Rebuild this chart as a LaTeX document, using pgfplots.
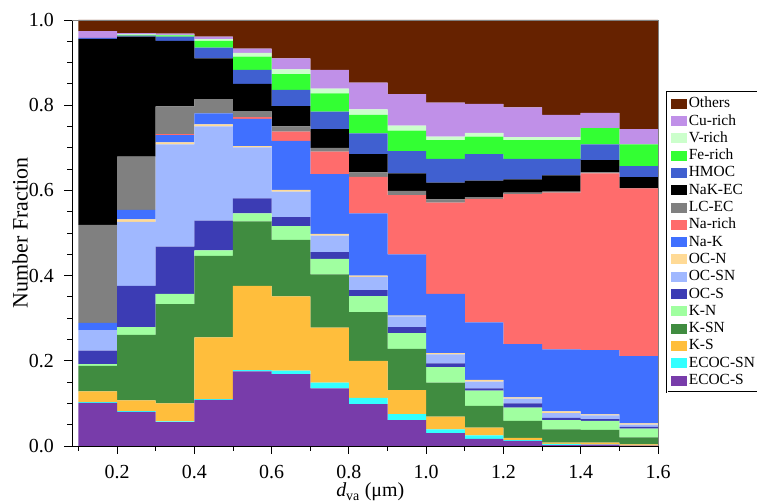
\documentclass[border=0pt]{standalone}
\usepackage{fontspec}
\setmainfont{Liberation Serif}
\usepackage{pgfplots}
\usepackage{pgfplotstable}
\pgfplotsset{compat=1.18}
\definecolor{OT}{RGB}{102,34,0}
\definecolor{CU}{RGB}{192,144,232}
\definecolor{VR}{RGB}{204,255,204}
\definecolor{FE}{RGB}{51,255,51}
\definecolor{HM}{RGB}{64,96,208}
\definecolor{NE}{RGB}{0,0,0}
\definecolor{LC}{RGB}{128,128,128}
\definecolor{NR}{RGB}{255,108,108}
\definecolor{NK}{RGB}{64,112,255}
\definecolor{ON}{RGB}{255,218,150}
\definecolor{OSN}{RGB}{160,184,255}
\definecolor{OS}{RGB}{60,60,180}
\definecolor{KN}{RGB}{160,255,160}
\definecolor{KSN}{RGB}{64,140,64}
\definecolor{KS}{RGB}{255,190,60}
\definecolor{EN}{RGB}{51,255,255}
\definecolor{ES}{RGB}{120,60,170}
\pgfplotstableread{
x    ES   EN   KS   KSN  KN   OS   OSN  ON   NK   NR   LC   NE   HM   FE   VR   CU   OT
0.15 .101 .002 .025 .060 .004 .032 .048 0    .017 0    .230 .436 .003 0    0    .016 .026
0.25 .080 .002 .025 .154 .018 .097 .150 .006 .022 0    .125 .282 .002 .002 .001 .003 .031
0.35 .056 .002 .042 .233 .024 .111 .240 .005 .017 .002 .065 .154 .010 .003 .001 .003 .032
0.45 .108 .002 .145 .191 .013 .070 .221 .005 .026 0    .033 .096 .025 .016 .004 .006 .039
0.55 .175 .003 .198 .151 .019 .035 .120 .003 .064 .004 .014 .064 .033 .031 .009 .010 .067
0.65 .169 .008 .174 .133 .032 .021 .060 .004 .115 .022 .012 .048 .038 .037 .011 .026 .090
0.75 .135 .014 .129 .125 .036 .016 .039 .004 .140 .053 .009 .044 .041 .043 .011 .044 .117
0.85 .098 .015 .087 .114 .038 .014 .031 .003 .146 .086 .010 .043 .049 .043 .013 .063 .147
0.95 .061 .014 .056 .097 .037 .014 .025 .002 .144 .139 .010 .041 .052 .048 .012 .074 .174
1.05 .030 .009 .030 .080 .036 .009 .021 .003 .139 .214 .008 .039 .056 .044 .008 .080 .194
1.15 .017 .008 .018 .051 .036 .005 .016 .004 .135 .290 .004 .039 .062 .041 .009 .068 .197
1.25 .012 .002 .005 .040 .031 .010 .011 .003 .125 .352 .004 .031 .048 .044 .007 .070 .205
1.35 .002 .003 .003 .031 .022 .005 .011 .004 .146 .368 .002 .038 .039 .044 .007 .052 .223
1.45 .003 .001 .004 .030 .021 .004 .009 .002 .151 .415 .002 .029 .037 .038 0    .036 .218
1.55 .001 0    .003 .016 .021 .004 .005 .003 .158 .394 0    .026 .026 .051 0    .036 .256
}\data
\begin{document}
\begin{tikzpicture}[x=1bp,y=1bp]
\path[use as bounding box] (0,0) rectangle (757,504);
\begin{axis}[
  at={(72bp,58bp)}, anchor=south west,
  width=586bp, height=426bp, scale only axis,
  xmin=0.0834, xmax=1.6, ymin=0, ymax=1,
  ybar stacked, bar width=0.1,
  axis on top,
  axis x line*=bottom, axis y line*=left,
  axis line style={line width=0.9bp, -},
  tick style={line width=0.8bp, black},
  tick align=outside,
  major tick length=8bp, minor tick length=5bp,
  xtick={0.2,0.4,0.6,0.8,1.0,1.2,1.4,1.6},
  minor xtick={0.1,0.3,0.5,0.7,0.9,1.1,1.3,1.5},
  ytick={0,0.2,0.4,0.6,0.8,1.0},
  minor ytick={0.05,0.1,0.15,0.25,0.3,0.35,0.45,0.5,0.55,0.65,0.7,0.75,0.85,0.9,0.95},
  /pgf/number format/.cd, fixed, fixed zerofill, precision=1, assume math mode=true,
  /pgfplots/.cd,
  ticklabel style={font=\fontsize{20}{22}\selectfont},
  yticklabel style={anchor=east, inner sep=0pt, xshift=-10bp},
  xticklabel style={anchor=north, inner sep=0pt, yshift=-11bp},
  xlabel={{\itshape d}\textsubscript{va} (μm)},
  xlabel style={at={(axis description cs:0.509,-0.1197)}, anchor=base, inner sep=1pt, font=\fontsize{20}{22}\selectfont},
  ylabel={Number Fraction},
  ylabel style={at={(axis description cs:-0.0887,0.5)}, anchor=center, font=\fontsize{22}{24}\selectfont},
  reverse legend,
  legend style={at={(rel axis cs:1.0154,0.831)}, anchor=north west,
    draw=black, line width=0.6bp, double=white, double distance=1bp,
    font=\fontsize{15.5}{17}\selectfont,
    inner xsep=4bp, inner ysep=3bp, row sep=0.3bp,
    nodes={text height=11bp, text depth=3bp, inner sep=1.5bp},
    cells={anchor=west}},
  legend image code/.code={\fill[#1] (0bp,-5bp) rectangle (16bp,5bp);},
  after end axis/.code={\draw[gray, line width=0.5bp] (rel axis cs:0,1) -- (rel axis cs:1,1) -- (rel axis cs:1,0);},
]
\addplot[fill=ES, draw=none] table[x=x, y=ES] {\data}; \addlegendentry{ECOC-S}
\addplot[fill=EN, draw=none] table[x=x, y=EN] {\data}; \addlegendentry{ECOC-SN}
\addplot[fill=KS, draw=none] table[x=x, y=KS] {\data}; \addlegendentry{K-S}
\addplot[fill=KSN, draw=none] table[x=x, y=KSN] {\data}; \addlegendentry{K-SN}
\addplot[fill=KN, draw=none] table[x=x, y=KN] {\data}; \addlegendentry{K-N}
\addplot[fill=OS, draw=none] table[x=x, y=OS] {\data}; \addlegendentry{OC-S}
\addplot[fill=OSN, draw=none] table[x=x, y=OSN] {\data}; \addlegendentry{OC-SN}
\addplot[fill=ON, draw=none] table[x=x, y=ON] {\data}; \addlegendentry{OC-N}
\addplot[fill=NK, draw=none] table[x=x, y=NK] {\data}; \addlegendentry{Na-K}
\addplot[fill=NR, draw=none] table[x=x, y=NR] {\data}; \addlegendentry{Na-rich}
\addplot[fill=LC, draw=none] table[x=x, y=LC] {\data}; \addlegendentry{LC-EC}
\addplot[fill=NE, draw=none] table[x=x, y=NE] {\data}; \addlegendentry{NaK-EC}
\addplot[fill=HM, draw=none] table[x=x, y=HM] {\data}; \addlegendentry{HMOC}
\addplot[fill=FE, draw=none] table[x=x, y=FE] {\data}; \addlegendentry{Fe-rich}
\addplot[fill=VR, draw=none] table[x=x, y=VR] {\data}; \addlegendentry{V-rich}
\addplot[fill=CU, draw=none] table[x=x, y=CU] {\data}; \addlegendentry{Cu-rich}
\addplot[fill=OT, draw=none] table[x=x, y=OT] {\data}; \addlegendentry{Others}
\end{axis}
\end{tikzpicture}
\end{document}
